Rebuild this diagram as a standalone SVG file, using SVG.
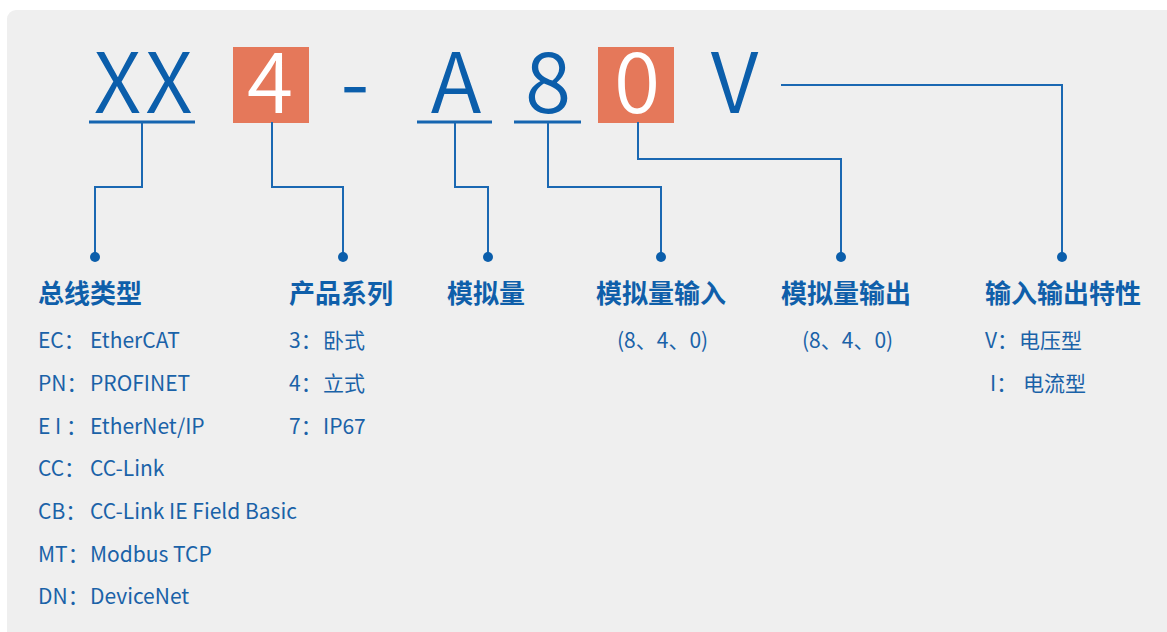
<svg xmlns="http://www.w3.org/2000/svg" width="1167" height="632" viewBox="0 0 1167 632">
<defs>
<style>
.big{font-family:"Noto Sans CJK SC","Noto Sans",sans-serif;font-size:84px;font-weight:350;fill:#0B5EAB;text-anchor:middle}
.bigw{fill:#FFFFFF}
.box{fill:#E5785A}
.ul{stroke:#1565B0;stroke-width:3;fill:none}
.ln{stroke:#1A68B2;stroke-width:2;fill:none}
.dot{fill:#0B5EAB}
.hd{font-family:"Noto Sans CJK SC",sans-serif;font-size:26px;font-weight:700;fill:#0F5FAA}
.it{font-family:"Noto Sans CJK SC",sans-serif;font-size:21px;fill:#1A62A8}
</style>
</defs>
<rect x="7" y="10" width="1180" height="640" rx="9" fill="#EFEFEF"/>
<g id="code">
<text class="big" x="117.5" y="113">X</text>
<text class="big" x="169" y="113">X</text>
<line class="ul" x1="89" y1="122" x2="195" y2="122"/>
<rect class="box" x="233" y="47" width="76" height="76"/>
<text class="big bigw" x="270" y="113">4</text>
<text class="big" x="355" y="113">-</text>
<text class="big" x="456" y="113">A</text>
<line class="ul" x1="417" y1="122" x2="492" y2="122"/>
<text class="big" x="548" y="113">8</text>
<line class="ul" x1="514" y1="122" x2="581" y2="122"/>
<rect class="box" x="598" y="47" width="76" height="76"/>
<text class="big bigw" x="637" y="113">0</text>
<text class="big" x="734.5" y="113">V</text>
</g>
<g id="connectors">
<polyline class="ln" points="142,122 142,187 95,187 95,257"/>
<polyline class="ln" points="272,122 272,187 343,187 343,257"/>
<polyline class="ln" points="455,122 455,187 488,187 488,257"/>
<polyline class="ln" points="548,122 548,187 661,187 661,257"/>
<polyline class="ln" points="638,122 638,159 841,159 841,257"/>
<polyline class="ln" points="781,85 1062,85 1062,257"/>
<circle class="dot" cx="95" cy="257" r="5"/>
<circle class="dot" cx="343" cy="257" r="5"/>
<circle class="dot" cx="488" cy="257" r="5"/>
<circle class="dot" cx="661" cy="257" r="5"/>
<circle class="dot" cx="841" cy="257" r="5"/>
<circle class="dot" cx="1062" cy="257" r="5"/>
</g>
<g id="bus">
<text class="hd" x="38" y="303">总线类型</text>
<text class="it" x="38" y="348">EC：</text><text class="it" x="90" y="348">EtherCAT</text>
<text class="it" x="38" y="391">PN：</text><text class="it" x="90" y="391">PROFINET</text>
<text class="it" x="38" y="434">E I ：</text><text class="it" x="90" y="434">EtherNet/IP</text>
<text class="it" x="38" y="476">CC：</text><text class="it" x="90" y="476">CC-Link</text>
<text class="it" x="38" y="519">CB：</text><text class="it" x="90" y="519">CC-Link IE Field Basic</text>
<text class="it" x="38" y="562">MT：</text><text class="it" x="90" y="562">Modbus TCP</text>
<text class="it" x="38" y="604">DN：</text><text class="it" x="90" y="604">DeviceNet</text>
</g>
<g id="series">
<text class="hd" x="289" y="303">产品系列</text>
<text class="it" x="289" y="348">3：</text><text class="it" x="323" y="348">卧式</text>
<text class="it" x="289" y="391">4：</text><text class="it" x="323" y="391">立式</text>
<text class="it" x="289" y="434">7：</text><text class="it" x="323" y="434">IP67</text>
</g>
<g id="analog">
<text class="hd" x="447" y="303">模拟量</text>
</g>
<g id="analog-in">
<text class="hd" x="596" y="303">模拟量输入</text>
<text class="it" x="617" y="348">(8、4、0)</text>
</g>
<g id="analog-out">
<text class="hd" x="781" y="303">模拟量输出</text>
<text class="it" x="802" y="348">(8、4、0)</text>
</g>
<g id="io">
<text class="hd" x="985" y="303">输入输出特性</text>
<text class="it" x="985" y="348">V：</text><text class="it" x="1019" y="348">电压型</text>
<text class="it" x="990" y="391">I：</text><text class="it" x="1023" y="391">电流型</text>
</g>
</svg>
